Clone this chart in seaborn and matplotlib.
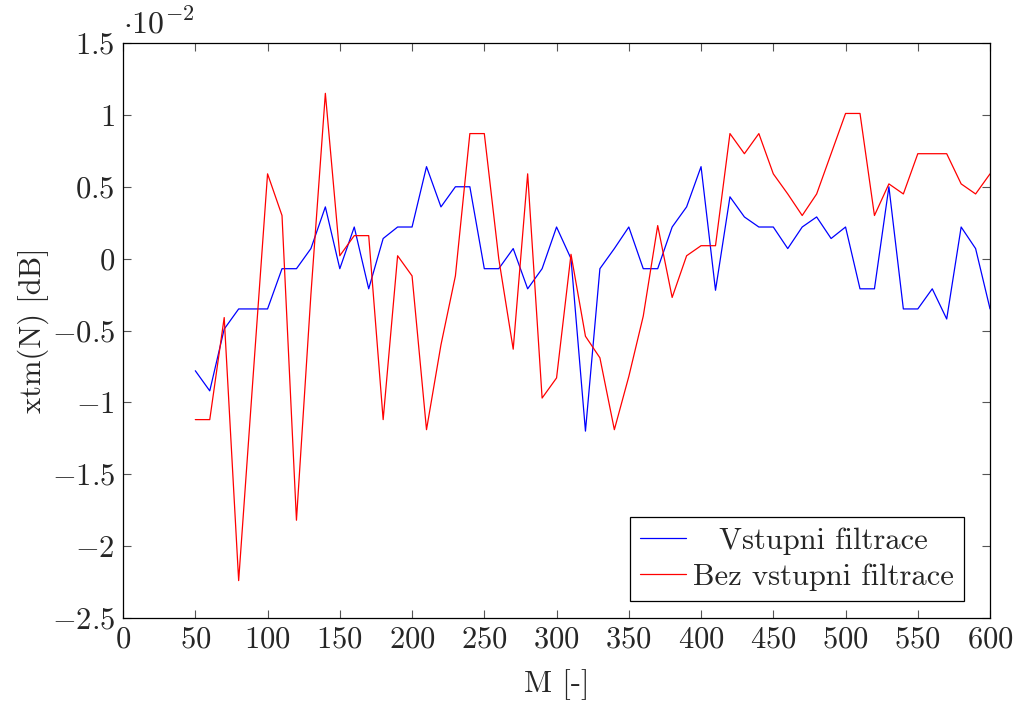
import numpy as np
import pandas as pd
import matplotlib
matplotlib.use("Agg")
import matplotlib.pyplot as plt
import matplotlib.transforms as mtransforms
import seaborn as sns

# values in units of 1e-2 dB
M = list(range(50, 601, 10))
vstupni = [-0.78, -0.92, -0.49, -0.35, -0.35, -0.35, -0.07, -0.07, 0.07, 0.36,
           -0.07, 0.22, -0.21, 0.14, 0.22, 0.22, 0.64, 0.36, 0.50, 0.50,
           -0.07, -0.07, 0.07, -0.21, -0.07, 0.22, 0.00, -1.20, -0.07, 0.07,
           0.22, -0.07, -0.07, 0.22, 0.36, 0.64, -0.22, 0.43, 0.29, 0.22,
           0.22, 0.07, 0.22, 0.29, 0.14, 0.22, -0.21, -0.21, 0.50, -0.35,
           -0.35, -0.21, -0.42, 0.22, 0.07, -0.35]
bez = [-1.12, -1.12, -0.41, -2.24, -0.82, 0.59, 0.30, -1.82, -0.25, 1.15,
       0.02, 0.16, 0.16, -1.12, 0.02, -0.12, -1.19, -0.60, -0.12, 0.87,
       0.87, 0.00, -0.63, 0.59, -0.97, -0.83, 0.03, -0.54, -0.69, -1.19,
       -0.82, -0.40, 0.23, -0.27, 0.02, 0.09, 0.09, 0.87, 0.73, 0.87,
       0.59, 0.45, 0.30, 0.45, 0.73, 1.01, 1.01, 0.30, 0.52, 0.45,
       0.73, 0.73, 0.73, 0.52, 0.45, 0.59]
labels = ["Vstupni filtrace", "Bez vstupni filtrace"]
xticks = [0, 50, 100, 150, 200, 250, 300, 350, 400, 450, 500, 550, 600]
yticks = [-2.5, -2, -1.5, -1, -0.5, 0, 0.5, 1, 1.5]

df = pd.DataFrame({
    "M": M * 2,
    "val": vstupni + bez,
    "series": [labels[0]] * len(M) + [labels[1]] * len(M),
})

sns.set_style("ticks")
plt.rcParams["font.family"] = ["cmr10", "DejaVu Serif"]
plt.rcParams["mathtext.fontset"] = "cm"
plt.rcParams["axes.formatter.use_mathtext"] = True
plt.rcParams["axes.unicode_minus"] = True

FS = 22

fig = plt.figure(figsize=(10.17, 7.02), dpi=100)
ax = fig.add_axes([0.121, 0.1197, 0.8525, 0.819])

sns.lineplot(data=df, x="M", y="val", hue="series",
             palette={labels[0]: "#0000ff", labels[1]: "#ff0000"},
             linewidth=0.9, ax=ax, legend=True)

ax.set_xlim(0, 600)
ax.set_ylim(-2.5, 1.5)
ax.set_xticks(xticks)
ax.set_yticks(yticks)
ax.set_xticklabels([f"${t}$" for t in xticks])
ax.set_yticklabels([f"${t:g}$" for t in yticks])
ax.tick_params(axis="both", direction="in", length=6, width=0.8, color="#555555",
               labelsize=FS, top=True, right=True, pad=6)
for s in ax.spines.values():
    s.set_linewidth(0.9)
    s.set_color("black")

ax.set_xlabel("M [-]", fontsize=FS, labelpad=11)
ax.set_ylabel("xtm(N) [dB]", fontsize=FS, labelpad=2)
ax.text(0.0, 1.0 + 10 / 575, r"$\cdot10^{-2}$", transform=ax.transAxes,
        fontsize=23, ha="left", va="baseline")

leg = ax.legend(loc="lower right", bbox_to_anchor=(0.97, 0.03), borderaxespad=0,
                fontsize=FS, frameon=True, fancybox=False,
                edgecolor="black", framealpha=1, borderpad=0.33,
                handlelength=1.5, handletextpad=0.23, labelspacing=0.28)
leg.get_frame().set_linewidth(0.9)
for l in leg.get_lines():
    l.set_linewidth(0.9)

# centre the shorter legend entry like pgfplots does
fig.canvas.draw()
r = fig.canvas.get_renderer()
texts = leg.get_texts()
w0 = texts[0].get_window_extent(r).width
w1 = texts[1].get_window_extent(r).width
dx = (w1 - w0) / 2.0 / fig.dpi
texts[0].set_transform(texts[0].get_transform() +
                       mtransforms.ScaledTranslation(dx, 0, fig.dpi_scale_trans))

fig.savefig("out.png", dpi=100)
